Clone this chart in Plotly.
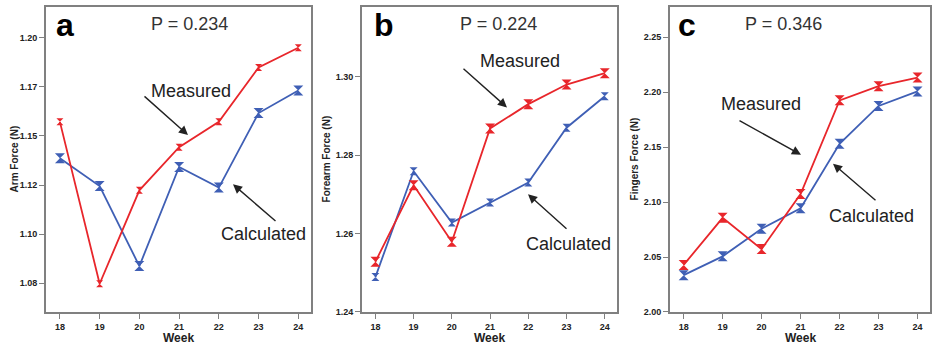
import plotly.graph_objects as go

W, H = 933, 350

weeks = [18, 19, 20, 21, 22, 23, 24]

arm_measured = [1.1572, 1.0747, 1.1223, 1.1443, 1.1572, 1.1849, 1.1950]
arm_calculated = [1.1386, 1.1245, 1.0837, 1.1342, 1.1237, 1.1617, 1.1732]

forearm_measured = [1.2528, 1.2723, 1.2579, 1.2868, 1.2930, 1.2980, 1.3009]
forearm_calculated = [1.2489, 1.2759, 1.2628, 1.2679, 1.2730, 1.2870, 1.2950]

fingers_measured = [2.0428, 2.0856, 2.0572, 2.1072, 2.1925, 2.2054, 2.2132]
fingers_calculated = [2.0335, 2.0506, 2.0757, 2.0943, 2.1530, 2.1874, 2.2006]

arm_ticks = [1.075, 1.100, 1.125, 1.150, 1.175, 1.200]
arm_ticktext = ["1.08", "1.10", "1.12", "1.15", "1.17", "1.20"]
forearm_ticks = [1.24, 1.26, 1.28, 1.30]
forearm_ticktext = ["1.24", "1.26", "1.28", "1.30"]
fingers_ticks = [2.00, 2.05, 2.10, 2.15, 2.20, 2.25]
fingers_ticktext = ["2.00", "2.05", "2.10", "2.15", "2.20", "2.25"]

panel_letters = ["a", "b", "c"]
p_values = ["P = 0.234", "P = 0.224", "P = 0.346"]
y_titles = ["Arm Force (N)", "Forearm Force (N)", "Fingers Force (N)"]

RED = "#e8262b"
BLUE = "#3f5fb5"
FRAME = "#808080"
FONT = "Liberation Sans, Arial, sans-serif"

def px(x):
    return x / W

def py(y):
    return 1 - y / H

x_domains = [(46, 311), (362, 617), (670, 930)]
y_dom = [py(316.5), py(7)]
y_ranges = [(1.0603, 1.2158), (1.24, 1.3178), (2.0, 2.2775)]
x_range = (17.65, 24.32)

fig = go.Figure()

series = [
    (arm_measured, arm_calculated, 7, 10),
    (forearm_measured, forearm_calculated, 10, 8),
    (fingers_measured, fingers_calculated, 10, 10),
]
for i, (meas, calc, ms_r, ms_b) in enumerate(series):
    xa = "x" if i == 0 else f"x{i+1}"
    ya = "y" if i == 0 else f"y{i+1}"
    fig.add_trace(go.Scatter(x=weeks, y=calc, mode="lines+markers", xaxis=xa, yaxis=ya,
                             line=dict(color=BLUE, width=1.8),
                             marker=dict(symbol="hourglass", size=ms_b, color=BLUE),
                             showlegend=False, cliponaxis=False))
    fig.add_trace(go.Scatter(x=weeks, y=meas, mode="lines+markers", xaxis=xa, yaxis=ya,
                             line=dict(color=RED, width=1.8),
                             marker=dict(symbol="hourglass", size=ms_r, color=RED),
                             showlegend=False, cliponaxis=False))

tick_sets = [(arm_ticks, arm_ticktext), (forearm_ticks, forearm_ticktext), (fingers_ticks, fingers_ticktext)]
layout = dict(
    width=W, height=H,
    margin=dict(l=0, r=0, t=0, b=0),
    paper_bgcolor="white", plot_bgcolor="white",
    font=dict(family=FONT, color="#222"),
)
for i in range(3):
    sx = "" if i == 0 else str(i + 1)
    layout[f"xaxis{sx}"] = dict(
        domain=[px(x_domains[i][0]), px(x_domains[i][1])],
        range=list(x_range), anchor=f"y{sx}",
        tickvals=weeks, ticktext=[str(w) for w in weeks],
        ticks="outside", ticklen=5, tickwidth=1.2, tickcolor=FRAME,
        showline=True, linecolor=FRAME, linewidth=1.6, mirror=True,
        showgrid=False, zeroline=False,
        tickfont=dict(family=FONT, size=9, color="#222", weight="bold"),
    )
    layout[f"yaxis{sx}"] = dict(
        domain=y_dom, range=list(y_ranges[i]), anchor=f"x{sx}",
        tickvals=tick_sets[i][0], ticktext=tick_sets[i][1],
        ticks="outside", ticklen=5, tickwidth=1.2, tickcolor=FRAME,
        showline=True, linecolor=FRAME, linewidth=1.6, mirror=True,
        showgrid=False, zeroline=False,
        tickfont=dict(family=FONT, size=9, color="#222", weight="bold"),
    )
fig.update_layout(**layout)

ann = []
letter_pos = [(65, 25), (384, 25), (687, 25)]
p_pos = [(189, 24), (498, 24), (783, 24)]
ytitle_x = [14, 326, 634]
week_x = [(x_domains[i][0] + x_domains[i][1]) / 2 for i in range(3)]

def label(x, y, text, size, color="#222", angle=0):
    return dict(x=px(x), y=py(y), xref="paper", yref="paper", text=text,
                showarrow=False, xanchor="center", yanchor="middle", textangle=angle,
                font=dict(family=FONT, size=size, color=color))

for i in range(3):
    ann.append(label(letter_pos[i][0], letter_pos[i][1], f"<b>{panel_letters[i]}</b>", 32, "black"))
    ann.append(label(p_pos[i][0], p_pos[i][1], p_values[i], 18, "#333"))
    ann.append(label(ytitle_x[i], (7 + 316.5) / 2, f"<b>{y_titles[i]}</b>", 10, "#222", -90))
    ann.append(label(week_x[i], 342.5, "<b>Week</b>", 12, "#222"))

labels = [
    ("Measured", 191, 92), ("Calculated", 263, 237),
    ("Measured", 520, 62), ("Calculated", 568, 248),
    ("Measured", 761, 106), ("Calculated", 871, 219),
]
for t, x, y in labels:
    ann.append(label(x, y, t, 18, "#222"))

arrows = [
    (188, 137, -45, -40), (233, 187, 44, 38),
    (507, 109, -45, -40), (528, 197, 40, 36),
    (801, 157, -63, -35), (833, 166, 44, 38),
]
for hx, hy, ax, ay in arrows:
    ann.append(dict(x=px(hx), y=py(hy), xref="paper", yref="paper", text="",
                    showarrow=True, ax=ax, ay=ay, arrowhead=2, arrowsize=1.3,
                    arrowwidth=1.4, arrowcolor="#222"))

fig.update_layout(annotations=ann)
fig.write_html("out.html", config={"displayModeBar": False})

with open("out.html", "r", encoding="utf-8") as f:
    html = f.read()
html = html.replace("<body>", '<body style="margin:0;padding:0;overflow:hidden">', 1)
with open("out.html", "w", encoding="utf-8") as f:
    f.write(html)
